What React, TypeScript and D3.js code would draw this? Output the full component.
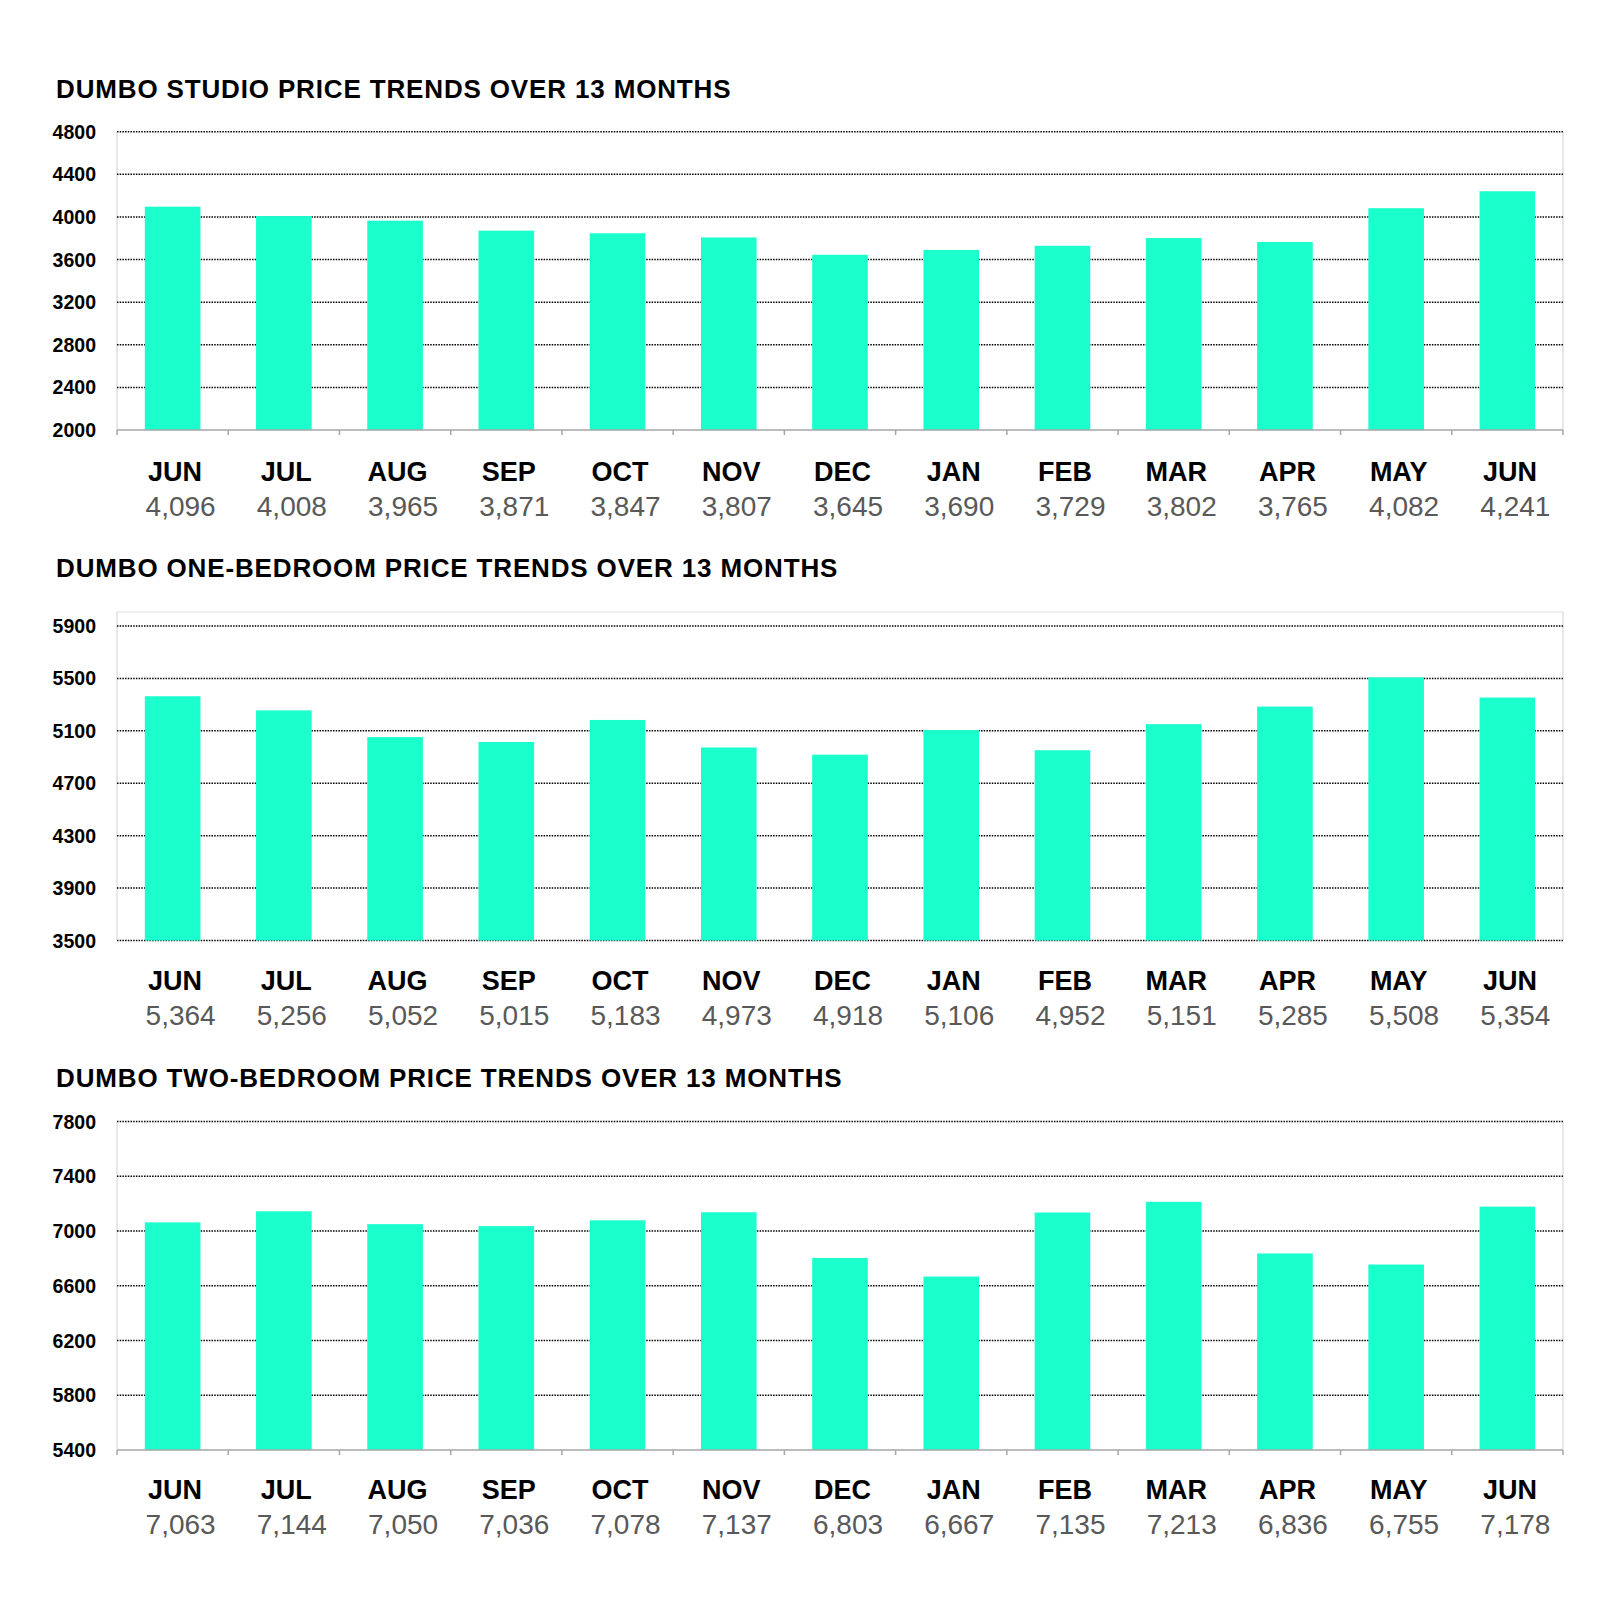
import React from "react";
import * as d3 from "d3";

const months = ["JUN", "JUL", "AUG", "SEP", "OCT", "NOV", "DEC", "JAN", "FEB", "MAR", "APR", "MAY", "JUN"];
const studioValues = [4096, 4008, 3965, 3871, 3847, 3807, 3645, 3690, 3729, 3802, 3765, 4082, 4241];
const oneBedValues = [5364, 5256, 5052, 5015, 5183, 4973, 4918, 5106, 4952, 5151, 5285, 5508, 5354];
const twoBedValues = [7063, 7144, 7050, 7036, 7078, 7137, 6803, 6667, 7135, 7213, 6836, 6755, 7178];
const studioTicks = [2000, 2400, 2800, 3200, 3600, 4000, 4400, 4800];
const oneBedTicks = [3500, 3900, 4300, 4700, 5100, 5500, 5900];
const twoBedTicks = [5400, 5800, 6200, 6600, 7000, 7400, 7800];

const BAR = "#1AFFCC";
const FONT = "'Liberation Sans', Arial, Helvetica, sans-serif";

type PanelProps = {
  title: string;
  values: number[];
  ticks: number[];
  titleY: number;
  plotTop: number;
  yTopTick: number;
  yBottom: number;
  bottomAxis: boolean;
  monthDy: number;
  valueDy: number;
};

const X0 = 117;
const X1 = 1563;

function Panel(p: PanelProps) {
  const lo = p.ticks[0];
  const hi = p.ticks[p.ticks.length - 1];
  const y = d3.scaleLinear().domain([lo, hi]).range([p.yBottom, p.yTopTick]);
  const x = d3.scaleBand<number>().domain(d3.range(months.length)).range([X0, X1]).paddingInner(0.5).paddingOuter(0.25);
  const step = x.step();
  const fmt = d3.format(",");
  return (
    <g>
      <text x={56} y={p.titleY} fontFamily={FONT} fontWeight="bold" fontSize={26} letterSpacing={0.85} fill="#000">
        {p.title}
      </text>
      <line x1={X0} x2={X0} y1={p.plotTop} y2={p.yBottom} stroke="#d9d9d9" strokeWidth={1.2} />
      <line x1={X1} x2={X1} y1={p.plotTop} y2={p.yBottom} stroke="#d9d9d9" strokeWidth={1.2} />
      {p.plotTop < p.yTopTick - 2 && (
        <line x1={X0} x2={X1} y1={p.plotTop} y2={p.plotTop} stroke="#e0e0e0" strokeWidth={1.2} />
      )}
      {p.ticks.map((t) =>
        t === lo && p.bottomAxis ? null : (
          <line
            key={"g" + t}
            x1={X0}
            x2={X1}
            y1={y(t)}
            y2={y(t)}
            stroke="#000"
            strokeWidth={1.5}
            strokeDasharray="1.5,1.2"
          />
        )
      )}
      {p.ticks.map((t) => (
        <text
          key={"t" + t}
          x={96}
          y={y(t) + 7}
          textAnchor="end"
          fontFamily={FONT}
          fontWeight="bold"
          fontSize={19.5}
          fill="#000"
        >
          {t}
        </text>
      ))}
      {p.values.map((v, i) => (
        <rect key={"b" + i} x={x(i)} y={y(v)} width={x.bandwidth()} height={y(lo) - y(v)} fill={BAR} />
      ))}
      {p.bottomAxis && (
        <g>
          <line x1={X0} x2={X1} y1={p.yBottom} y2={p.yBottom} stroke="#a6a6a6" strokeWidth={1.5} />
          {d3.range(months.length + 1).map((i) => (
            <line
              key={"k" + i}
              x1={X0 + i * step}
              x2={X0 + i * step}
              y1={p.yBottom}
              y2={p.yBottom + 5}
              stroke="#a6a6a6"
              strokeWidth={1.5}
            />
          ))}
        </g>
      )}
      {months.map((m, i) => {
        const cx = (x(i) as number) + x.bandwidth() / 2;
        return (
          <g key={"l" + i}>
            <text
              x={cx + 2.5}
              y={p.yBottom + p.monthDy}
              textAnchor="middle"
              fontFamily={FONT}
              fontWeight="bold"
              fontSize={27}
              fill="#000"
            >
              {m}
            </text>
            <text
              x={cx + 8}
              y={p.yBottom + p.valueDy}
              textAnchor="middle"
              fontFamily={FONT}
              fontSize={28}
              fill="#595959"
            >
              {fmt(p.values[i])}
            </text>
          </g>
        );
      })}
    </g>
  );
}

export default function App() {
  return (
    <svg
      width={1600}
      height={1615}
      style={{ position: "absolute", left: 0, top: 0, background: "#fff" }}
    >
      <rect width={1600} height={1615} fill="#fff" />
      <Panel
        title="DUMBO STUDIO PRICE TRENDS OVER 13 MONTHS"
        values={studioValues}
        ticks={studioTicks}
        titleY={98}
        plotTop={131.7}
        yTopTick={131.7}
        yBottom={430}
        bottomAxis={true}
        monthDy={51}
        valueDy={86}
      />
      <Panel
        title="DUMBO ONE-BEDROOM PRICE TRENDS OVER 13 MONTHS"
        values={oneBedValues}
        ticks={oneBedTicks}
        titleY={577}
        plotTop={612}
        yTopTick={626}
        yBottom={940.5}
        bottomAxis={false}
        monthDy={49.5}
        valueDy={84.5}
      />
      <Panel
        title="DUMBO TWO-BEDROOM PRICE TRENDS OVER 13 MONTHS"
        values={twoBedValues}
        ticks={twoBedTicks}
        titleY={1087}
        plotTop={1121.5}
        yTopTick={1121.5}
        yBottom={1450}
        bottomAxis={true}
        monthDy={49}
        valueDy={84}
      />
    </svg>
  );
}
